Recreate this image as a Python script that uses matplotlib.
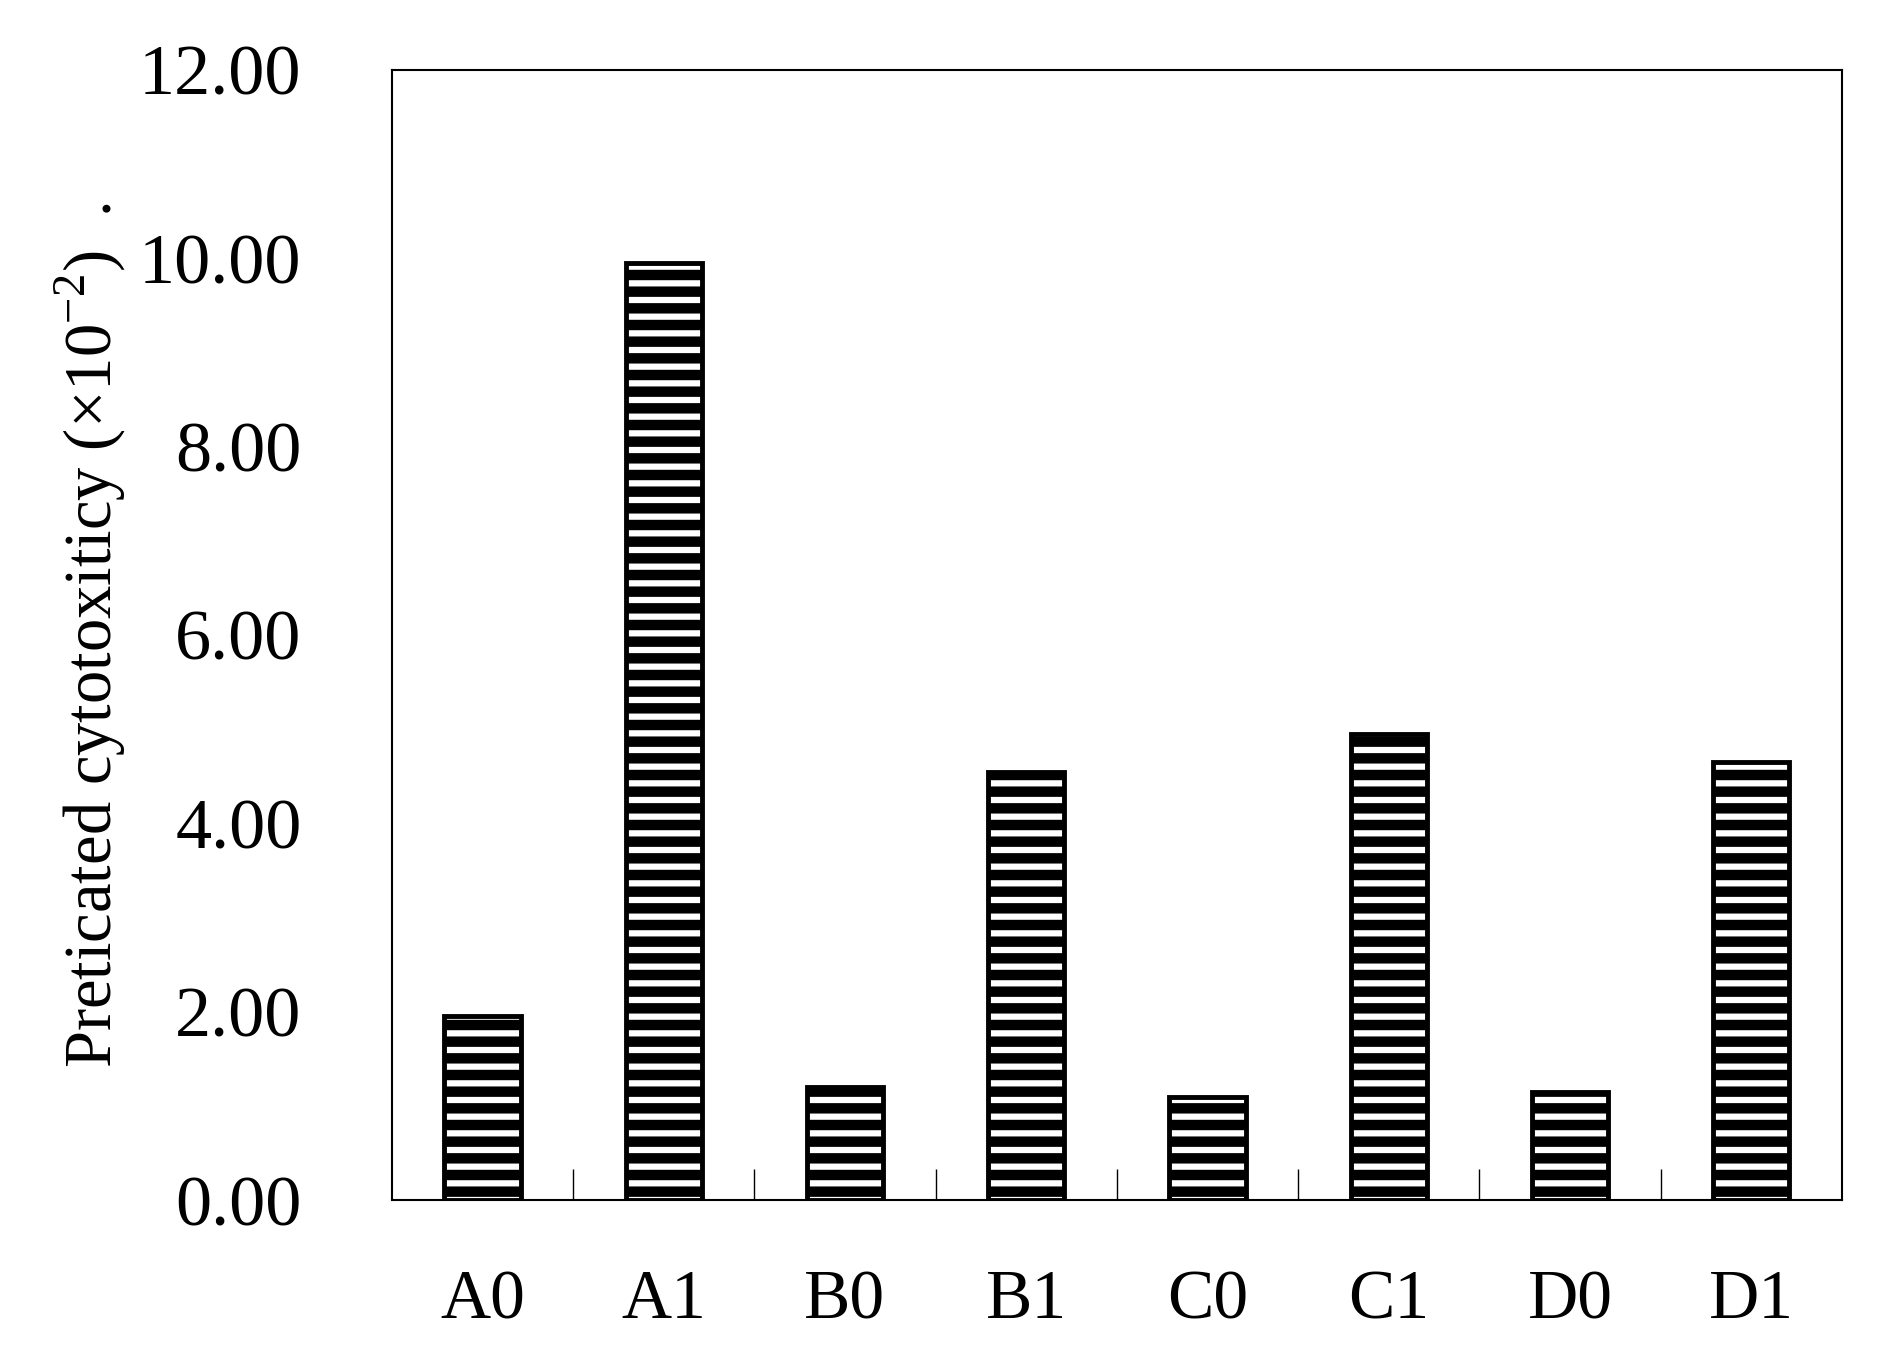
import matplotlib
matplotlib.use("Agg")
import matplotlib.pyplot as plt
import numpy as np

categories = ["A0", "A1", "B0", "B1", "C0", "C1", "D0", "D1"]
values = [1.95, 9.95, 1.2, 4.55, 1.1, 4.95, 1.15, 4.65]
yticks = [0, 2, 4, 6, 8, 10, 12]

plt.rcParams['font.family'] = ['Liberation Serif', 'DejaVu Serif']
plt.rcParams['mathtext.fontset'] = 'custom'
plt.rcParams['mathtext.rm'] = 'Liberation Serif'
plt.rcParams['hatch.linewidth'] = 7.5
plt.rcParams['hatch.color'] = 'black'

fig = plt.figure(figsize=(18.93, 13.70), dpi=100)
ax = fig.add_axes([0.207, 0.124, 0.766, 0.825])
x = np.arange(len(categories))
ax.bar(x, values, width=0.42, facecolor='white', edgecolor='black', linewidth=3.5, hatch='-')
ax.set_xlim(-0.5, len(categories) - 0.5)
ax.set_ylim(0, 12)
ax.set_yticks(yticks)
ax.set_yticklabels([f"{v:.2f}" for v in yticks], fontsize=52)
ax.tick_params(axis='y', length=0, pad=65)
ax.set_xticks(x)
ax.set_xticklabels(categories, fontsize=50)
ax.tick_params(axis='x', length=0, pad=50)
ax.set_xticks(np.arange(0.5, len(categories) - 1, 1), minor=True)
ax.tick_params(axis='x', which='minor', direction='in', length=22, width=1)
for s in ax.spines.values():
    s.set_linewidth(1.5)
ax.set_ylabel("Preticated cytotoxiticy (×10$^{\\mathrm{-2}}$)  .", fontsize=48, labelpad=8)
fig.savefig("out.png", dpi=100)
